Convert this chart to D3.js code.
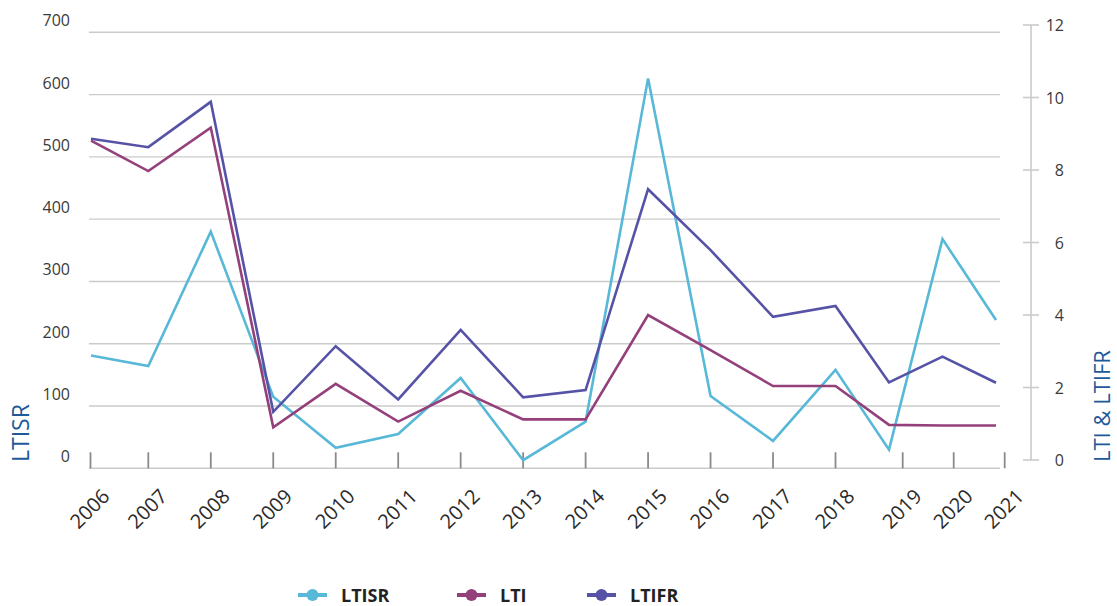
<!DOCTYPE html>
<html>
<head>
<meta charset="utf-8">
<script src="https://cdn.jsdelivr.net/npm/d3@7"></script>
<style>
  html, body { margin: 0; padding: 0; background: #fff; }
  svg { display: block; font-family: "Open Sans", "Liberation Sans", Arial, sans-serif; }
</style>
</head>
<body>
<svg id="chart" width="1117" height="606"></svg>
<script>
// ---- data ----
const years = [2006, 2007, 2008, 2009, 2010, 2011, 2012, 2013, 2014, 2015, 2016, 2017, 2018, 2019, 2020, 2021];
const ltisr = [181, 164, 380, 115, 33, 55, 145, 13, 75, 626, 116, 44, 158, 30, 368, 238];
const lti   = [8.81, 7.97, 9.17, 0.90, 2.10, 1.06, 1.91, 1.12, 1.12, 4.00, 3.03, 2.04, 2.04, 0.97, 0.95, 0.95];
const ltifr = [8.86, 8.63, 9.88, 1.33, 3.14, 1.67, 3.59, 1.73, 1.93, 7.47, 5.79, 3.95, 4.25, 2.14, 2.85, 2.13];
const leftTicks = [0, 100, 200, 300, 400, 500, 600, 700];
const rightTicks = [0, 2, 4, 6, 8, 10, 12];
const seriesNames = ["LTISR", "LTI", "LTIFR"];
const colors = { LTISR: "#58b8d7", LTI: "#94407b", LTIFR: "#5653a6" };

const svg = d3.select("#chart");

// ---- scales ----
const xData = d3.scaleLinear().domain([2006, 2007, 2018, 2021]).range([91, 148.3, 835.5, 996]);
const xTick = d3.scaleLinear().domain([2006, 2007, 2018, 2019, 2021]).range([90.5, 148.3, 835.5, 902.7, 1004.7]);
const yL = d3.scaleLinear().domain([0, 700]).range([468.3, 32.3]);
const yR = d3.scaleLinear().domain([0, 12]).range([460, 25]);

// ---- gridlines ----
svg.append("g").selectAll("line").data(leftTicks.filter(d => d > 0)).join("line")
  .attr("x1", 89).attr("x2", 1000)
  .attr("y1", d => yL(d)).attr("y2", d => yL(d))
  .attr("stroke", "#cbcbcb").attr("stroke-width", 1.4);

// left tick labels (shifted up from gridlines as in reference)
svg.append("g").selectAll("text").data(leftTicks).join("text")
  .attr("x", 70).attr("y", d => yL(d) - 12)
  .attr("text-anchor", "end").attr("dominant-baseline", "central")
  .attr("font-size", 16).attr("fill", "#3a3a3a")
  .text(d => d);

// bottom axis
svg.append("line").attr("x1", 89).attr("x2", 1000)
  .attr("y1", yL(0)).attr("y2", yL(0))
  .attr("stroke", "#cbcbcb").attr("stroke-width", 1.6);
svg.append("g").selectAll("line").data(years).join("line")
  .attr("x1", d => xTick(d)).attr("x2", d => xTick(d))
  .attr("y1", yL(0) - 16).attr("y2", yL(0))
  .attr("stroke", "#8a8a8a").attr("stroke-width", 1.8);
svg.append("g").selectAll("text").data(years).join("text")
  .attr("transform", d => `translate(${xTick(d) + 15},${yL(0) + 24}) rotate(-45)`)
  .attr("text-anchor", "end").attr("dominant-baseline", "central")
  .attr("font-size", 20).attr("fill", "#2a2a2a")
  .text(d => d);

// right axis
svg.append("line").attr("x1", 1031).attr("x2", 1031)
  .attr("y1", yR(12)).attr("y2", yR(0))
  .attr("stroke", "#cbcbcb").attr("stroke-width", 1.6);
svg.append("g").selectAll("line").data(rightTicks).join("line")
  .attr("x1", 1023).attr("x2", 1039)
  .attr("y1", d => yR(d)).attr("y2", d => yR(d))
  .attr("stroke", "#cbcbcb").attr("stroke-width", 1.6);
svg.append("g").selectAll("text").data(rightTicks).join("text")
  .attr("x", 1064).attr("y", d => yR(d))
  .attr("text-anchor", "end").attr("dominant-baseline", "central")
  .attr("font-size", 16).attr("fill", "#3a3a3a")
  .text(d => d);

// axis titles
svg.append("text")
  .attr("transform", `translate(29,462) rotate(-90)`)
  .attr("text-anchor", "start")
  .attr("font-size", 23).attr("fill", "#1d5a97")
  .text("LTISR");
svg.append("text")
  .attr("transform", `translate(1110,462) rotate(-90)`)
  .attr("text-anchor", "start")
  .attr("font-size", 22).attr("fill", "#1d5a97")
  .text("LTI & LTIFR");

// ---- lines ----
const lineL = d3.line().x((d, i) => xData(years[i])).y(d => yL(d));
const lineR = d3.line().x((d, i) => xData(years[i])).y(d => yR(d));
svg.append("path").datum(ltisr).attr("d", lineL)
  .attr("fill", "none").attr("stroke", colors.LTISR).attr("stroke-width", 2.6).attr("stroke-linejoin", "miter");
svg.append("path").datum(lti).attr("d", lineR)
  .attr("fill", "none").attr("stroke", colors.LTI).attr("stroke-width", 2.6).attr("stroke-linejoin", "miter");
svg.append("path").datum(ltifr).attr("d", lineR)
  .attr("fill", "none").attr("stroke", colors.LTIFR).attr("stroke-width", 2.6).attr("stroke-linejoin", "miter");

// ---- legend ----
const legendX = d3.scaleOrdinal().domain(seriesNames).range([298, 457, 587]);
const lg = svg.append("g").selectAll("g").data(seriesNames).join("g")
  .attr("transform", d => `translate(${legendX(d)},595)`);
lg.append("line").attr("x1", 0).attr("x2", 29).attr("y1", 0).attr("y2", 0)
  .attr("stroke", d => colors[d]).attr("stroke-width", 4);
lg.append("circle").attr("cx", 14.5).attr("cy", 0).attr("r", 6)
  .attr("fill", d => colors[d]);
lg.append("text").attr("x", 43).attr("y", 6.5)
  .attr("font-size", 18).attr("font-weight", "bold").attr("fill", "#222")
  .text(d => d);
</script>
</body>
</html>
